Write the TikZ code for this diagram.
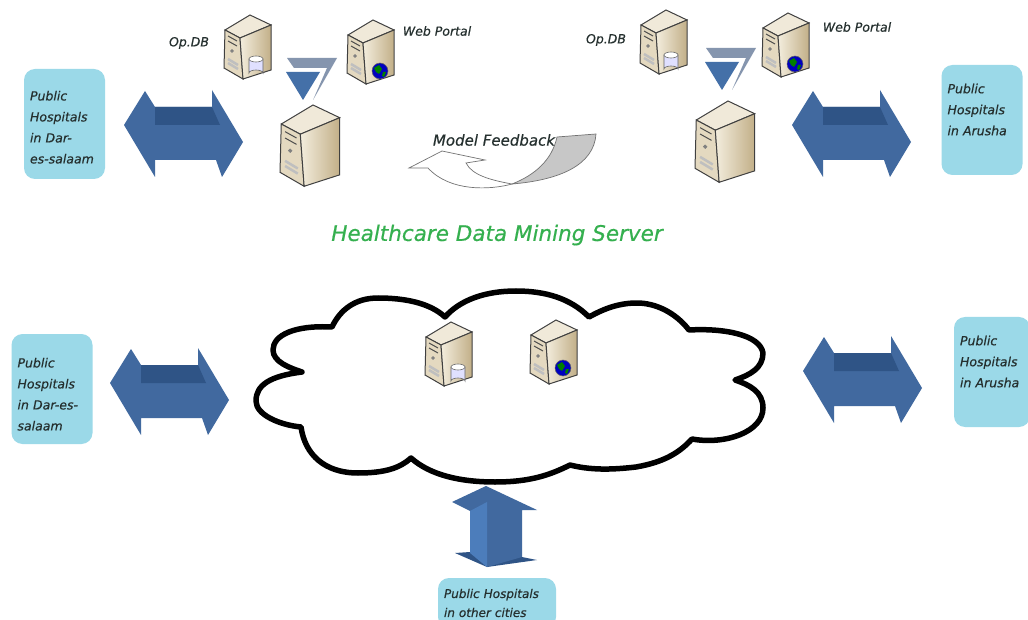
\documentclass[tikz,border=0pt]{standalone}
\usepackage{fontspec}
\setmainfont{DejaVu Sans}
\usepackage{tikz}
\definecolor{hospblue}{HTML}{9BD9E8}
\definecolor{arrowblue}{HTML}{41699F}
\definecolor{arrowdark}{HTML}{2F5486}
\definecolor{arrowlight}{HTML}{4C7DBB}
\definecolor{trigray}{HTML}{8595AE}
\definecolor{textdark}{HTML}{25302F}
\definecolor{titlegreen}{HTML}{35B04F}
\definecolor{srvtop}{HTML}{F0E9D9}
\definecolor{srvside}{HTML}{E4D9C0}
\definecolor{srvlight}{HTML}{F3EDDD}
\definecolor{srvtan}{HTML}{C2AF88}
\newcommand{\handfont}{\itshape\addfontfeature{FakeBold=0.5}}
\tikzset{
  hospital/.style={fill=hospblue,rounded corners=11pt,align=left,inner sep=6pt,text=textdark,
    font=\handfont\fontsize{12.5}{21}\selectfont},
  lbl/.style={text=textdark,font=\handfont\fontsize{12.5}{14}\selectfont,inner sep=0pt},
  pics/server/.style={code={
    \draw[black!75,line width=1pt,fill=srvtop]
      (1,15)--(26,0)--(47,10)--(16,23)--cycle;
    \draw[black!75,line width=1pt,fill=srvside]
      (1,15)--(16,23)--(19,64)--(0,53)--cycle;
    \draw[black!75,line width=1pt,left color=srvlight,right color=srvtan]
      (16,23)--(47,10)--(47,55)--(19,64)--cycle;
    \draw[black!70,line width=1pt](4,21)--(13,26);
    \draw[black!70,line width=1pt](4,26)--(13,31);
    \filldraw[black!50](8,36) circle (1.5pt);
    \draw[black!25,line width=2.5pt](4,44)--(14,50);
    \draw[black!25,line width=2.5pt](4,48)--(14,54);
  }},
  pics/dbicon/.style={code={
    \filldraw[draw=black!60,fill=blue!12!white,line width=.6pt](-7,-7)--(-7,7) arc (180:360:7 and 3)--(7,-7)--cycle;
    \filldraw[draw=black!60,fill=white,line width=.6pt](0,-7) ellipse (7 and 3);
  }},
  pics/globeicon/.style={code={
    \filldraw[draw=black!60,fill=blue!75!black,line width=.5pt](0,0) circle (8);
    \fill[green!50!black](-6,-3)--(-1,-6)--(2,-2)--(-1,3)--(-4,1)--cycle;
    \fill[green!50!black](3,1)--(6,1)--(4,6)--(2,5)--cycle;
  }},
  pics/dualarrow/.style={code={
    \fill[arrowblue](-60,-9)--(-39,-43)--(-29,-27)--(28,-27)--(28,-44)--(59,8)--(38,43)--(32,26)--(-29,26)--(-29,43)--cycle;
    \fill[arrowdark](-29,-27)--(28,-27)--(36,-9)--(-29,-9)--cycle;
  }},
  pics/feedtri/.style={code={
    \fill[trigray](1,0)--(51,0)--(27,42)--(41,10)--(8,10)--cycle;
    \fill[arrowlight!90!black](0,14)--(34,14)--(17,42)--cycle;
  }}
}
\begin{document}
\begin{tikzpicture}[x=1pt,y=-1pt]
  \useasboundingbox[fill=white] (0,0) rectangle (1028,620);
  % top row
  \pic at (224,15) {server};
  \pic at (256,66) {dbicon};
  \pic at (347,20) {server};
  \pic at (380,71) {globeicon};
  \pic[scale=1.27] at (280,105) {server};
  \pic at (286,58) {feedtri};
  \pic at (640,10) {server};
  \pic at (671,62) {dbicon};
  \pic at (762,13) {server};
  \pic at (795,64) {globeicon};
  \pic[scale=1.27] at (695,101) {server};
  \pic at (705,48) {feedtri};
  \pic at (184,134) {dualarrow};
  \pic at (852,134) {dualarrow};
  \node[lbl] (opdbl) at (189,43) {Op.DB};
  \node[lbl] (webl) at (437,31) {Web Portal};
  \node[lbl] (opdbr) at (606,40) {Op.DB};
  \node[lbl] (webr) at (857,27) {Web Portal};
  \node[hospital,minimum width=81pt,minimum height=110pt,text width=69pt] (hospdar) at (64.5,124) {\rule{0pt}{16pt}Public\\Hospitals\\in Dar-\\es-salaam};
  \node[hospital,minimum width=81pt,minimum height=110pt,text width=69pt] (hospaur) at (982,120) {Public\\Hospitals\\in Arusha\\~};
  % feedback arrow
  \filldraw[draw=black!55,fill=black!22,line width=.7pt]
    (557,137)--(596,134) .. controls (594,165) and (560,180) .. (512,184)
    .. controls (535,175) and (552,160) .. (557,137)--cycle;
  \filldraw[draw=black!55,fill=white,line width=.7pt]
    (409,168)--(442,151)--(485,160)--(466,163)
    .. controls (472,175) and (490,180) .. (512,184)
    .. controls (490,190) and (450,192) .. (428,168)--cycle;
  \node[lbl,font=\handfont\fontsize{15}{17}\selectfont] (feedback) at (494,140) {Model Feedback};
  \node[text=titlegreen,inner sep=0pt,font=\handfont\fontsize{21.5}{24}\selectfont] (title) at (497,235) {Healthcare Data Mining Server};
  % cloud
  \draw[line width=5.5pt,fill=white,line join=round]
    (302,372) .. controls (270,376) and (256,385) .. (256,401)
    .. controls (256,415) and (280,425) .. (301,427)
    .. controls (305,455) and (325,473) .. (358,473)
    .. controls (385,473) and (400,468) .. (411,458)
    .. controls (430,475) and (460,482) .. (495,482)
    .. controls (530,482) and (550,475) .. (570,465)
    .. controls (590,470) and (610,470) .. (636,467)
    .. controls (665,462) and (680,452) .. (692,439)
    .. controls (725,445) and (763,432) .. (763,408)
    .. controls (763,392) and (750,385) .. (735,380)
    .. controls (750,375) and (763,368) .. (763,353)
    .. controls (760,335) and (725,328) .. (689,330)
    .. controls (675,312) and (655,303) .. (637,303)
    .. controls (620,303) and (605,308) .. (589,317)
    .. controls (570,298) and (545,291) .. (516,291)
    .. controls (485,291) and (460,300) .. (445,317)
    .. controls (430,303) and (405,298) .. (378,298)
    .. controls (355,298) and (340,310) .. (332,327)
    .. controls (295,325) and (273,335) .. (273,350)
    .. controls (273,362) and (290,368) .. (302,372)--cycle;
  \pic at (425,322) {server};
  \pic at (458,374) {dbicon};
  \pic at (530,320) {server};
  \pic at (563,368) {globeicon};
  % bottom row
  \pic at (170,392) {dualarrow};
  \pic at (863,380) {dualarrow};
  \node[hospital,minimum width=81pt,minimum height=110pt,text width=69pt] (hospdarb) at (52,389) {\rule{0pt}{20pt}Public\\Hospitals\\in Dar-es-\\salaam};
  \node[hospital,minimum width=76pt,minimum height=110pt,text width=64pt] (hospaurb) at (992,372) {Public\\Hospitals\\in Arusha\\~};
  \fill[arrowdark](455,553)--(470,552)--(522,557)--(537,560)--(487,567)--cycle;
  \fill[arrowblue](452,502)--(486,486)--(537,510)--(522,510)--(522,557)--(487,567)--(470,552)--(470,511)--cycle;
  \fill[arrowlight](470,511)--(487,502)--(487,567)--(470,553)--cycle;
  \node[hospital,minimum width=116pt,minimum height=50pt,text width=106pt,font=\handfont\fontsize{12}{19}\selectfont] (hospother) at (497,603) {Public Hospitals\\in other cities};
\end{tikzpicture}
\end{document}
